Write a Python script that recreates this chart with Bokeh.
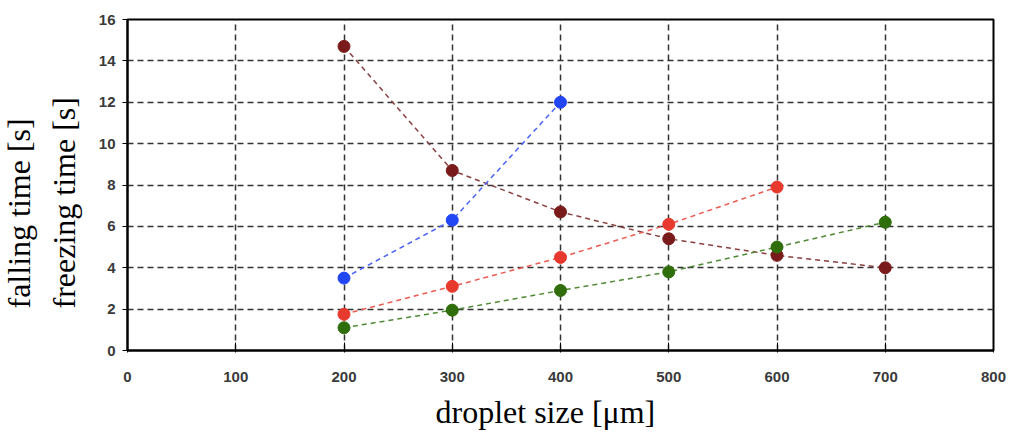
from bokeh.plotting import figure
from bokeh.models import Title, Range1d, FixedTicker
from bokeh.embed import file_html
from bokeh.resources import INLINE

# data
sizes_all = [200, 300, 400, 500, 600, 700]
falling_brown = [14.7, 8.7, 6.7, 5.4, 4.6, 4.0]
sizes_blue = [200, 300, 400]
blue_vals = [3.5, 6.3, 12.0]
sizes_red = [200, 300, 400, 500, 600]
red_vals = [1.75, 3.1, 4.5, 6.1, 7.9]
green_vals = [1.1, 1.95, 2.9, 3.8, 5.0, 6.2]

x_ticks = [0, 100, 200, 300, 400, 500, 600, 700, 800]
y_ticks = [0, 2, 4, 6, 8, 10, 12, 14, 16]

p = figure(width=1010, height=436, output_backend="svg", toolbar_location=None,
           x_range=Range1d(0, 800), y_range=Range1d(0, 16),
           min_border_left=127, min_border_right=17, min_border_top=19, min_border_bottom=86)

p.background_fill_color = "white"
p.border_fill_color = "white"
p.outline_line_color = "black"
p.outline_line_width = 2

for ax in (p.xaxis, p.yaxis):
    ax.axis_line_width = 2
    ax.axis_line_color = "black"
    ax.major_tick_line_color = "black"
    ax.major_tick_line_width = 1
    ax.minor_tick_line_color = None
    ax.major_label_text_font = "Liberation Sans"
    ax.major_label_text_font_size = "15px"
    ax.major_label_text_font_style = "bold"
    ax.major_label_text_color = "#3a3a3a"

p.xaxis.ticker = FixedTicker(ticks=x_ticks)
p.yaxis.ticker = FixedTicker(ticks=y_ticks)
p.xaxis.major_tick_in = 8
p.xaxis.major_tick_out = 2
p.yaxis.major_tick_in = 0
p.yaxis.major_tick_out = 5
p.xaxis.major_label_standoff = 19
p.yaxis.major_label_standoff = 7

p.xgrid.grid_line_color = "#333333"
p.ygrid.grid_line_color = "#333333"
p.xgrid.grid_line_width = 1.5
p.ygrid.grid_line_width = 1.5
p.xgrid.grid_line_dash = "6 4"
p.ygrid.grid_line_dash = "6 4"

series = [
    (sizes_all, falling_brown, "#7a1b1b", "#8a4040"),
    (sizes_blue, blue_vals, "#2346f5", "#4a63f7"),
    (sizes_red, red_vals, "#e8392e", "#ec5a50"),
    (sizes_all, green_vals, "#2f6e0a", "#4f8a35"),
]
for xs, ys, mc, lc in series:
    p.line(xs, ys, line_color=lc, line_width=1.5, line_dash="5 4")
    p.scatter(xs, ys, size=12, fill_color=mc, line_color=mc)

common = dict(text_font="Liberation Serif", text_font_size="32px",
              text_font_style="normal", text_color="black")
p.add_layout(Title(text="droplet size [μm]", align="left", offset=308,
                   standoff=14, **common), "below")
p.add_layout(Title(text="freezing time [s]", align="left", offset=42,
                   standoff=27, **common), "left")
p.add_layout(Title(text="falling time [s]", align="left", offset=42,
                   standoff=-12, **common), "left")

open("out.html", "w").write(file_html(p, INLINE))
